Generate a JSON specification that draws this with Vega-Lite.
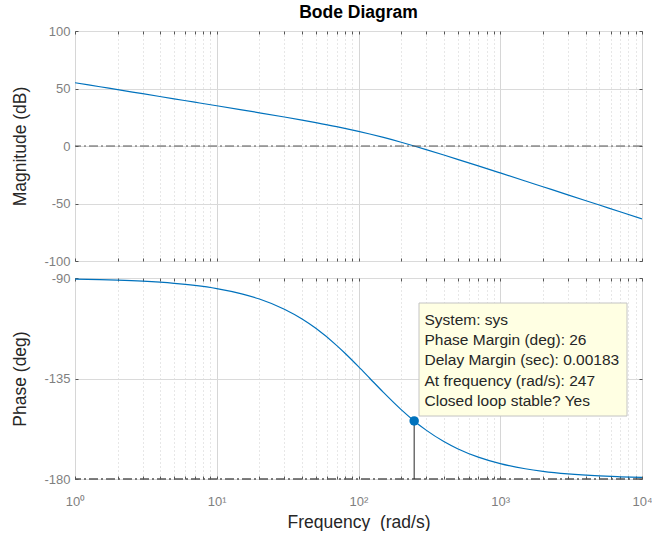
{
  "$schema": "https://vega.github.io/schema/vega-lite/v6.json",
  "background": "white",
  "padding": {"left": 11, "top": 3, "right": 0, "bottom": 0},
  "bounds": "flush",
  "spacing": 17,
  "config": {
    "font": "Liberation Sans",
    "view": {"stroke": "#7a7a7a", "strokeWidth": 1},
    "axis": {
      "labelFont": "Liberation Sans",
      "labelFontSize": 13,
      "labelColor": "#7f7f7f",
      "labelFlush": false,
      "titleFont": "Liberation Sans",
      "titleFontSize": 17.5,
      "titleFontWeight": "normal",
      "titleColor": "#262626",
      "domain": false,
      "tickColor": "#555555",
      "tickSize": -3,
      "gridColor": "#dadada",
      "gridWidth": 1
    }
  },
  "datasets": {
    "bode": [
      {"w": 1, "mag": 55.02, "phase": -90.48},
      {"w": 1.5, "mag": 51.5, "phase": -90.71},
      {"w": 2, "mag": 49.0, "phase": -90.95},
      {"w": 3, "mag": 45.48, "phase": -91.43},
      {"w": 5, "mag": 41.03, "phase": -92.38},
      {"w": 7, "mag": 38.1, "phase": -93.33},
      {"w": 10, "mag": 34.99, "phase": -94.74},
      {"w": 15, "mag": 31.43, "phase": -97.1},
      {"w": 20, "mag": 28.88, "phase": -99.42},
      {"w": 30, "mag": 25.22, "phase": -103.98},
      {"w": 40, "mag": 22.53, "phase": -108.36},
      {"w": 50, "mag": 20.35, "phase": -112.53},
      {"w": 70, "mag": 16.86, "phase": -120.15},
      {"w": 80, "mag": 15.37, "phase": -123.58},
      {"w": 100, "mag": 12.74, "phase": -129.69},
      {"w": 120, "mag": 10.45, "phase": -134.88},
      {"w": 150, "mag": 7.44, "phase": -141.22},
      {"w": 200, "mag": 3.25, "phase": -148.93},
      {"w": 247, "mag": 0.0, "phase": -153.99},
      {"w": 300, "mag": -3.09, "phase": -158.12},
      {"w": 400, "mag": -7.82, "phase": -163.24},
      {"w": 500, "mag": -11.57, "phase": -166.45},
      {"w": 700, "mag": -17.29, "phase": -170.23},
      {"w": 1000, "mag": -23.42, "phase": -173.13},
      {"w": 1500, "mag": -30.43, "phase": -175.41},
      {"w": 2000, "mag": -35.42, "phase": -176.55},
      {"w": 3000, "mag": -42.45, "phase": -177.7},
      {"w": 5000, "mag": -51.32, "phase": -178.62},
      {"w": 7000, "mag": -57.16, "phase": -179.01},
      {"w": 10000, "mag": -63.36, "phase": -179.31}
    ],
    "margin": [{"w": 247, "phase": -153.99, "base": -180}]
  },
  "vconcat": [
    {
      "width": 567,
      "height": 230,
      "title": {"text": "Bode Diagram", "font": "Liberation Sans", "fontSize": 17.5, "fontWeight": "bold", "color": "#000000", "offset": 4, "anchor": "middle"},
      "resolve": {"axis": {"x": "independent", "y": "independent"}},
      "layer": [
        {
          "data": {"name": "bode"},
          "mark": {"type": "line", "color": "#0072BD", "strokeWidth": 1.2, "interpolate": "monotone", "clip": true},
          "encoding": {
            "x": {
              "field": "w", "type": "quantitative",
              "scale": {"type": "log", "domain": [1, 10000], "nice": false},
              "axis": {
                "labels": false, "title": null,
                "values": [1,2,3,4,5,6,7,8,9,10,20,30,40,50,60,70,80,90,100,200,300,400,500,600,700,800,900,1000,2000,3000,4000,5000,6000,7000,8000,9000,10000],
                "gridDash": {"condition": {"test": "datum.value == 1 || datum.value == 10 || datum.value == 100 || datum.value == 1000 || datum.value == 10000", "value": []}, "value": [1, 3]},
                "gridColor": {"condition": {"test": "datum.value == 1 || datum.value == 10 || datum.value == 100 || datum.value == 1000 || datum.value == 10000", "value": "#d6d6d6"}, "value": "#cfcfcf"}
              }
            },
            "y": {
              "field": "mag", "type": "quantitative",
              "scale": {"domain": [-100, 100], "nice": false},
              "axis": {"title": "Magnitude (dB)", "values": [-100, -50, 0, 50, 100], "labelExpr": "'' + datum.value", "labelPadding": 8, "titlePadding": 14}
            }
          }
        },
        {
          "data": {"name": "bode"},
          "mark": {"type": "line", "opacity": 0},
          "encoding": {
            "x": {
              "field": "w", "type": "quantitative",
              "axis": {"orient": "top", "labels": false, "title": null, "grid": false,
                "values": [1,2,3,4,5,6,7,8,9,10,20,30,40,50,60,70,80,90,100,200,300,400,500,600,700,800,900,1000,2000,3000,4000,5000,6000,7000,8000,9000,10000]}
            },
            "y": {
              "field": "mag", "type": "quantitative",
              "axis": {"orient": "right", "labels": false, "title": null, "grid": false, "values": [-100, -50, 0, 50, 100]}
            }
          }
        },
        {
          "data": {"values": [{}]},
          "mark": {"type": "rule", "color": "#555555", "strokeWidth": 1, "strokeDash": [9, 3, 2, 3]},
          "encoding": {"y": {"datum": 0, "axis": null}}
        }
      ]
    },
    {
      "width": 567,
      "height": 201,
      "resolve": {"axis": {"x": "independent", "y": "independent"}},
      "layer": [
        {
          "data": {"name": "bode"},
          "mark": {"type": "line", "color": "#0072BD", "strokeWidth": 1.2, "interpolate": "monotone", "clip": true},
          "encoding": {
            "x": {
              "field": "w", "type": "quantitative",
              "scale": {"type": "log", "domain": [1, 10000], "nice": false},
              "axis": {
                "title": "Frequency\u00a0 (rad/s)",
                "labelOverlap": false,
                "labelFlush": false,
                "labelPadding": 19,
                "titlePadding": 5,
                "labelExpr": "datum.value == 1 ? '10⁰' : datum.value == 10 ? '10¹' : datum.value == 100 ? '10²' : datum.value == 1000 ? '10³' : datum.value == 10000 ? '10⁴' : ''",
                "values": [1,2,3,4,5,6,7,8,9,10,20,30,40,50,60,70,80,90,100,200,300,400,500,600,700,800,900,1000,2000,3000,4000,5000,6000,7000,8000,9000,10000],
                "gridDash": {"condition": {"test": "datum.value == 1 || datum.value == 10 || datum.value == 100 || datum.value == 1000 || datum.value == 10000", "value": []}, "value": [1, 3]},
                "gridColor": {"condition": {"test": "datum.value == 1 || datum.value == 10 || datum.value == 100 || datum.value == 1000 || datum.value == 10000", "value": "#d6d6d6"}, "value": "#cfcfcf"}
              }
            },
            "y": {
              "field": "phase", "type": "quantitative",
              "scale": {"domain": [-180, -90], "nice": false},
              "axis": {"title": "Phase (deg)", "values": [-180, -135, -90], "labelExpr": "'' + datum.value", "labelPadding": 8, "titlePadding": 14}
            }
          }
        },
        {
          "data": {"name": "bode"},
          "mark": {"type": "line", "opacity": 0},
          "encoding": {
            "x": {
              "field": "w", "type": "quantitative",
              "axis": {"orient": "top", "labels": false, "title": null, "grid": false,
                "values": [1,2,3,4,5,6,7,8,9,10,20,30,40,50,60,70,80,90,100,200,300,400,500,600,700,800,900,1000,2000,3000,4000,5000,6000,7000,8000,9000,10000]}
            },
            "y": {
              "field": "phase", "type": "quantitative",
              "axis": {"orient": "right", "labels": false, "title": null, "grid": false, "values": [-180, -135, -90]}
            }
          }
        },
        {
          "data": {"values": [{}]},
          "mark": {"type": "rule", "color": "#555555", "strokeWidth": 1.5, "strokeDash": [9, 3, 2, 3]},
          "encoding": {"y": {"datum": -180, "axis": null}}
        },
        {
          "data": {"name": "margin"},
          "mark": {"type": "rule", "color": "#262626", "strokeWidth": 1},
          "encoding": {
            "x": {"field": "w", "type": "quantitative", "axis": null},
            "y": {"field": "phase", "type": "quantitative", "axis": null},
            "y2": {"field": "base"}
          }
        },
        {
          "data": {"name": "margin"},
          "mark": {"type": "point", "filled": true, "color": "#0072BD", "size": 90, "opacity": 1},
          "encoding": {
            "x": {"field": "w", "type": "quantitative", "axis": null},
            "y": {"field": "phase", "type": "quantitative", "axis": null}
          }
        },
        {
          "data": {"values": [{}]},
          "mark": {"type": "rect", "fill": "#FFFFE3", "stroke": "#c4c4c4", "strokeWidth": 1},
          "encoding": {
            "x": {"datum": 267.2, "axis": null},
            "x2": {"datum": 7839},
            "y": {"datum": -101.2, "axis": null},
            "y2": {"datum": -151.8}
          }
        },
        {
          "data": {"values": [{}]},
          "mark": {
            "type": "text",
            "text": ["System: sys", "Phase Margin (deg): 26", "Delay Margin (sec): 0.00183", "At frequency (rad/s): 247", "Closed loop stable? Yes"],
            "font": "Liberation Sans", "fontSize": 15.5, "color": "#262626",
            "align": "left", "baseline": "middle", "lineHeight": 20.2
          },
          "encoding": {
            "x": {"datum": 292.2, "axis": null},
            "y": {"datum": -108.8, "axis": null}
          }
        }
      ]
    }
  ]
}
